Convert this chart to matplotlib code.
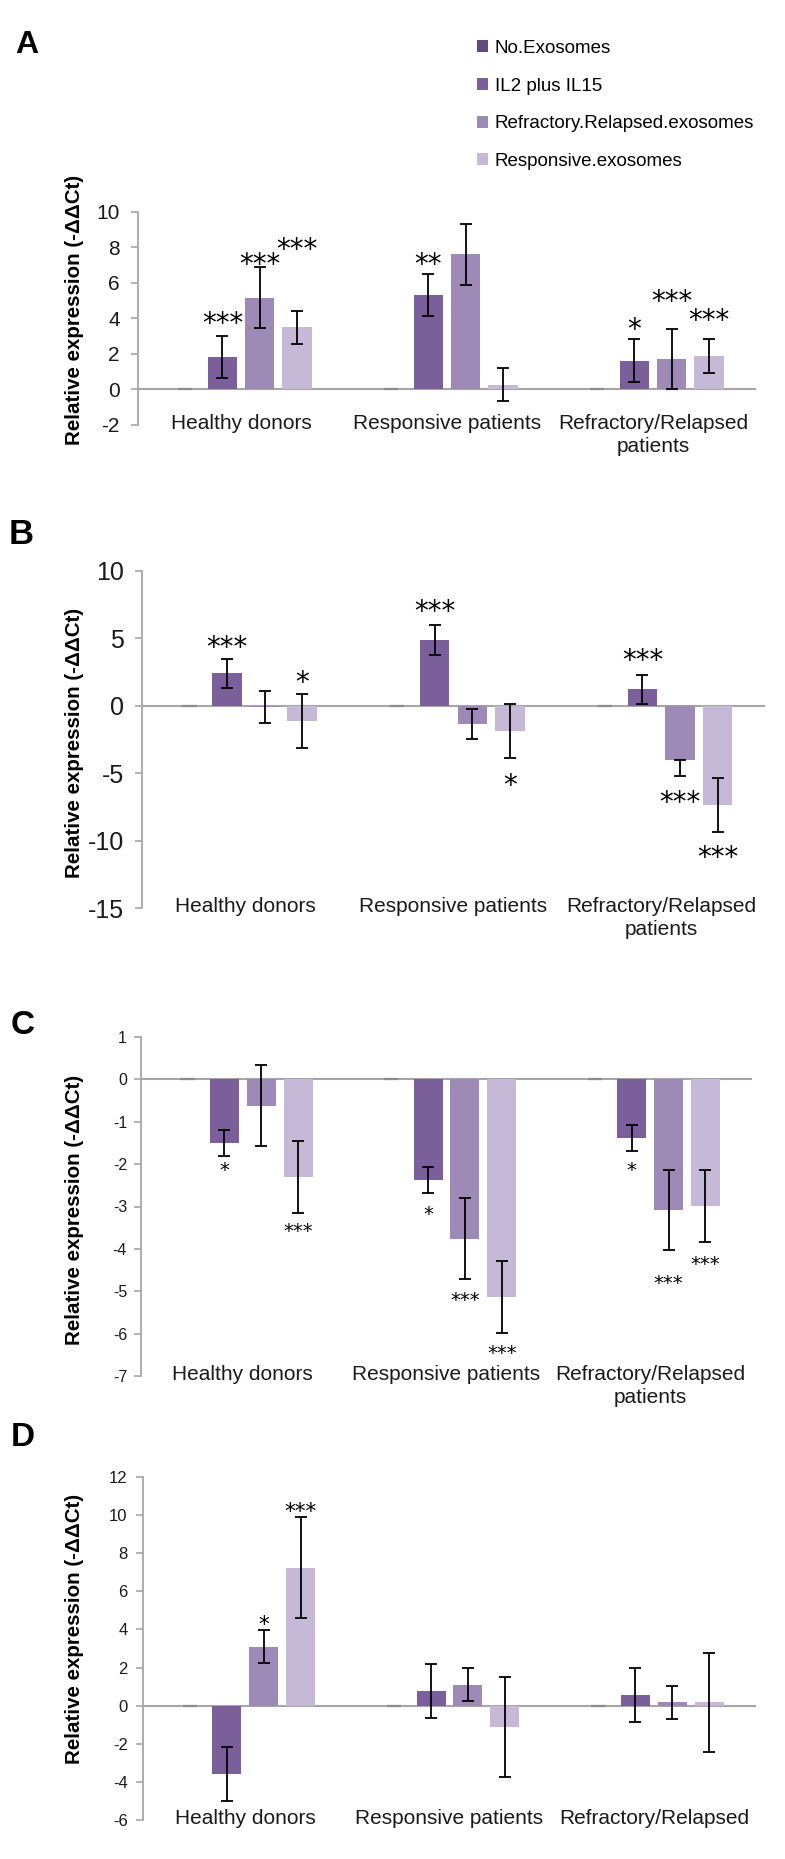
import matplotlib.pyplot as plt
import numpy as np
from matplotlib.patches import Patch

plt.rcParams["axes.unicode_minus"] = False

groups = ["Healthy donors", "Responsive patients", "Refractory/Relapsed\npatients"]
groups_d = ["Healthy donors", "Responsive patients", "Refractory/Relapsed"]
series = ["No.Exosomes", "IL2 plus IL15", "Refractory.Relapsed.exosomes", "Responsive.exosomes"]
colors = ["#5e4a7e", "#7a5f9a", "#9d8ab7", "#c5b9d7"]
ylabel = "Relative expression (-ΔΔCt)"

# panel A: one row per series, one value per patient group
a_vals = [[0, 0, 0], [1.84, 5.30, 1.62], [5.17, 7.63, 1.71], [3.50, 0.28, 1.88]]
a_err = [[0, 0, 0], [1.20, 1.18, 1.20], [1.72, 1.72, 1.71], [0.93, 0.92, 0.95]]
a_stars = [["", "", ""], ["***", "**", "*"], ["***", "***", "***"], ["***", "", "***"]]
a_star_y = [[0, 0, 0], [4.14, 7.48, 3.82], [7.48, 10.11, 5.41], [8.33, 0, 4.32]]

# panel B
b_vals = [[0, 0, 0], [2.40, 4.89, 1.21], [-0.10, -1.36, -4.02], [-1.11, -1.90, -7.36]]
b_err_lo = [[0, 0, 0], [1.10, 1.10, 1.10], [1.20, 1.12, 1.19], [2.00, 2.00, 2.00]]
b_err_hi = [[0, 0, 0], [1.10, 1.10, 1.10], [1.20, 1.12, 0.00], [2.00, 2.00, 2.00]]
b_stars = [["", "", ""], ["***", "***", "***"], ["", "", "***"], ["*", "*", "***"]]
b_star_y = [[0, 0, 0], [4.91, 7.58, 3.93], [0, 0, -6.62], [2.27, -5.38, -10.69]]

# panel C
c_vals = [[0, 0, 0], [-1.50, -2.37, -1.38], [-0.62, -3.76, -3.08], [-2.30, -5.14, -2.99]]
c_err = [[0, 0, 0], [0.31, 0.31, 0.30], [0.96, 0.95, 0.95], [0.85, 0.85, 0.85]]
c_stars = [["", "", ""], ["*", "*", "*"], ["", "***", "***"], ["***", "***", "***"]]
c_star_y = [[0, 0, 0], [-2.01, -3.05, -2.01], [0, -5.09, -4.67], [-3.45, -6.34, -4.24]]

# panel D
d_vals = [[0, 0, 0], [-3.57, 0.79, 0.56], [3.09, 1.10, 0.17], [7.25, -1.11, 0.17]]
d_err = [[0, 0, 0], [1.42, 1.42, 1.42], [0.87, 0.86, 0.87], [2.63, 2.61, 2.60]]
d_stars = [["", "", ""], ["", "", ""], ["*", "", ""], ["***", "", ""]]
d_star_y = [[0, 0, 0], [0, 0, 0], [4.58, 0, 0], [10.48, 0, 0]]

W, H = 785, 1859
arial = ["Liberation Sans", "DejaVu Sans"]
gray = "#a6a6a6"

fig = plt.figure(figsize=(W / 100, H / 100), dpi=100)


def panel(box, vals, err_lo, err_hi, stars, star_y, ylim, step, cats,
          tick_fs, tick_pad, star_fs, label_y):
    x0, x1, ytop, ybot = box
    ax = fig.add_axes([x0 / W, 1 - ybot / H, (x1 - x0) / W, (ybot - ytop) / H])
    x = np.arange(len(cats))
    for i in range(len(series)):
        pos = x + (i - 1.5) * 0.181
        if i == 0:
            ax.bar(pos, vals[i], 0.07, color=colors[i], edgecolor="#8c8c8c", lw=1.6, zorder=2)
            continue
        ax.bar(pos, vals[i], 0.142, color=colors[i], zorder=2)
        ax.errorbar(pos, vals[i], yerr=[err_lo[i], err_hi[i]], fmt="none", ecolor="black",
                    elinewidth=1.3, capsize=4, capthick=1.3, zorder=3)
        for j in range(len(cats)):
            if stars[i][j]:
                ax.annotate(stars[i][j], (pos[j], star_y[i][j]), xytext=(0, -0.58 * star_fs),
                            textcoords="offset points", ha="center", va="baseline",
                            fontsize=star_fs, family="DejaVu Sans", zorder=4)
    ax.axhline(0, color=gray, lw=1.5, zorder=1)
    ax.set_xlim(-0.5, 2.5)
    ax.set_ylim(*ylim)
    ax.set_yticks(np.arange(ylim[0], ylim[1] + step / 2, step))
    for s in ["top", "right", "bottom"]:
        ax.spines[s].set_visible(False)
    ax.spines["left"].set_color(gray)
    ax.spines["left"].set_linewidth(1.3)
    ax.tick_params(axis="y", direction="out", length=5, width=1.2, color=gray,
                   labelcolor="#1a1a1a", labelsize=tick_fs, pad=tick_pad)
    for t in ax.get_yticklabels():
        t.set_family(arial)
    ax.set_xticks(x)
    ax.set_xticklabels(cats, fontsize=15, family=arial, color="#1a1a1a", linespacing=1.3)
    ax.tick_params(axis="x", length=0, pad=-8)
    ax.set_ylabel(ylabel, fontsize=14.8, fontweight="bold", family=arial)
    ax.yaxis.set_label_coords((84 - x0) / (x1 - x0), label_y)
    return ax


ax_a = panel((138, 756, 212, 425), a_vals, a_err, a_err, a_stars, a_star_y, (-2, 10), 2,
             groups, 15, 8, 20, 0.54)
ax_b = panel((142, 765, 571, 908), b_vals, b_err_lo, b_err_hi, b_stars, b_star_y, (-15, 10), 5,
             groups, 18, 8, 20, 0.49)
ax_c = panel((141, 752, 1037, 1376), c_vals, c_err, c_err, c_stars, c_star_y, (-7, 1), 1,
             groups, 11.5, 5, 14, 0.49)
ax_d = panel((143, 756, 1477, 1820), d_vals, d_err, d_err, d_stars, d_star_y, (-6, 12), 2,
             groups_d, 12, 6, 15.5, 0.557)

handles = [Patch(facecolor=c) for c in colors]
ax_a.legend(handles, series, loc="upper left", bbox_to_anchor=(477 / W, 1 - 40 / H),
            bbox_transform=fig.transFigure, frameon=False, prop={"family": arial, "size": 13.5},
            handlelength=0.6, handleheight=0.6, handletextpad=0.35, labelspacing=1.1,
            borderpad=0, borderaxespad=0)

for letter, px, py, fs in [("A", 27, 45, 23), ("B", 21, 535, 25), ("C", 23, 1026, 24), ("D", 23, 1438, 24)]:
    fig.text(px / W, 1 - py / H, letter, fontsize=fs, fontweight="bold", family=arial,
             ha="center", va="center")

fig.savefig("out.png", dpi=100)
